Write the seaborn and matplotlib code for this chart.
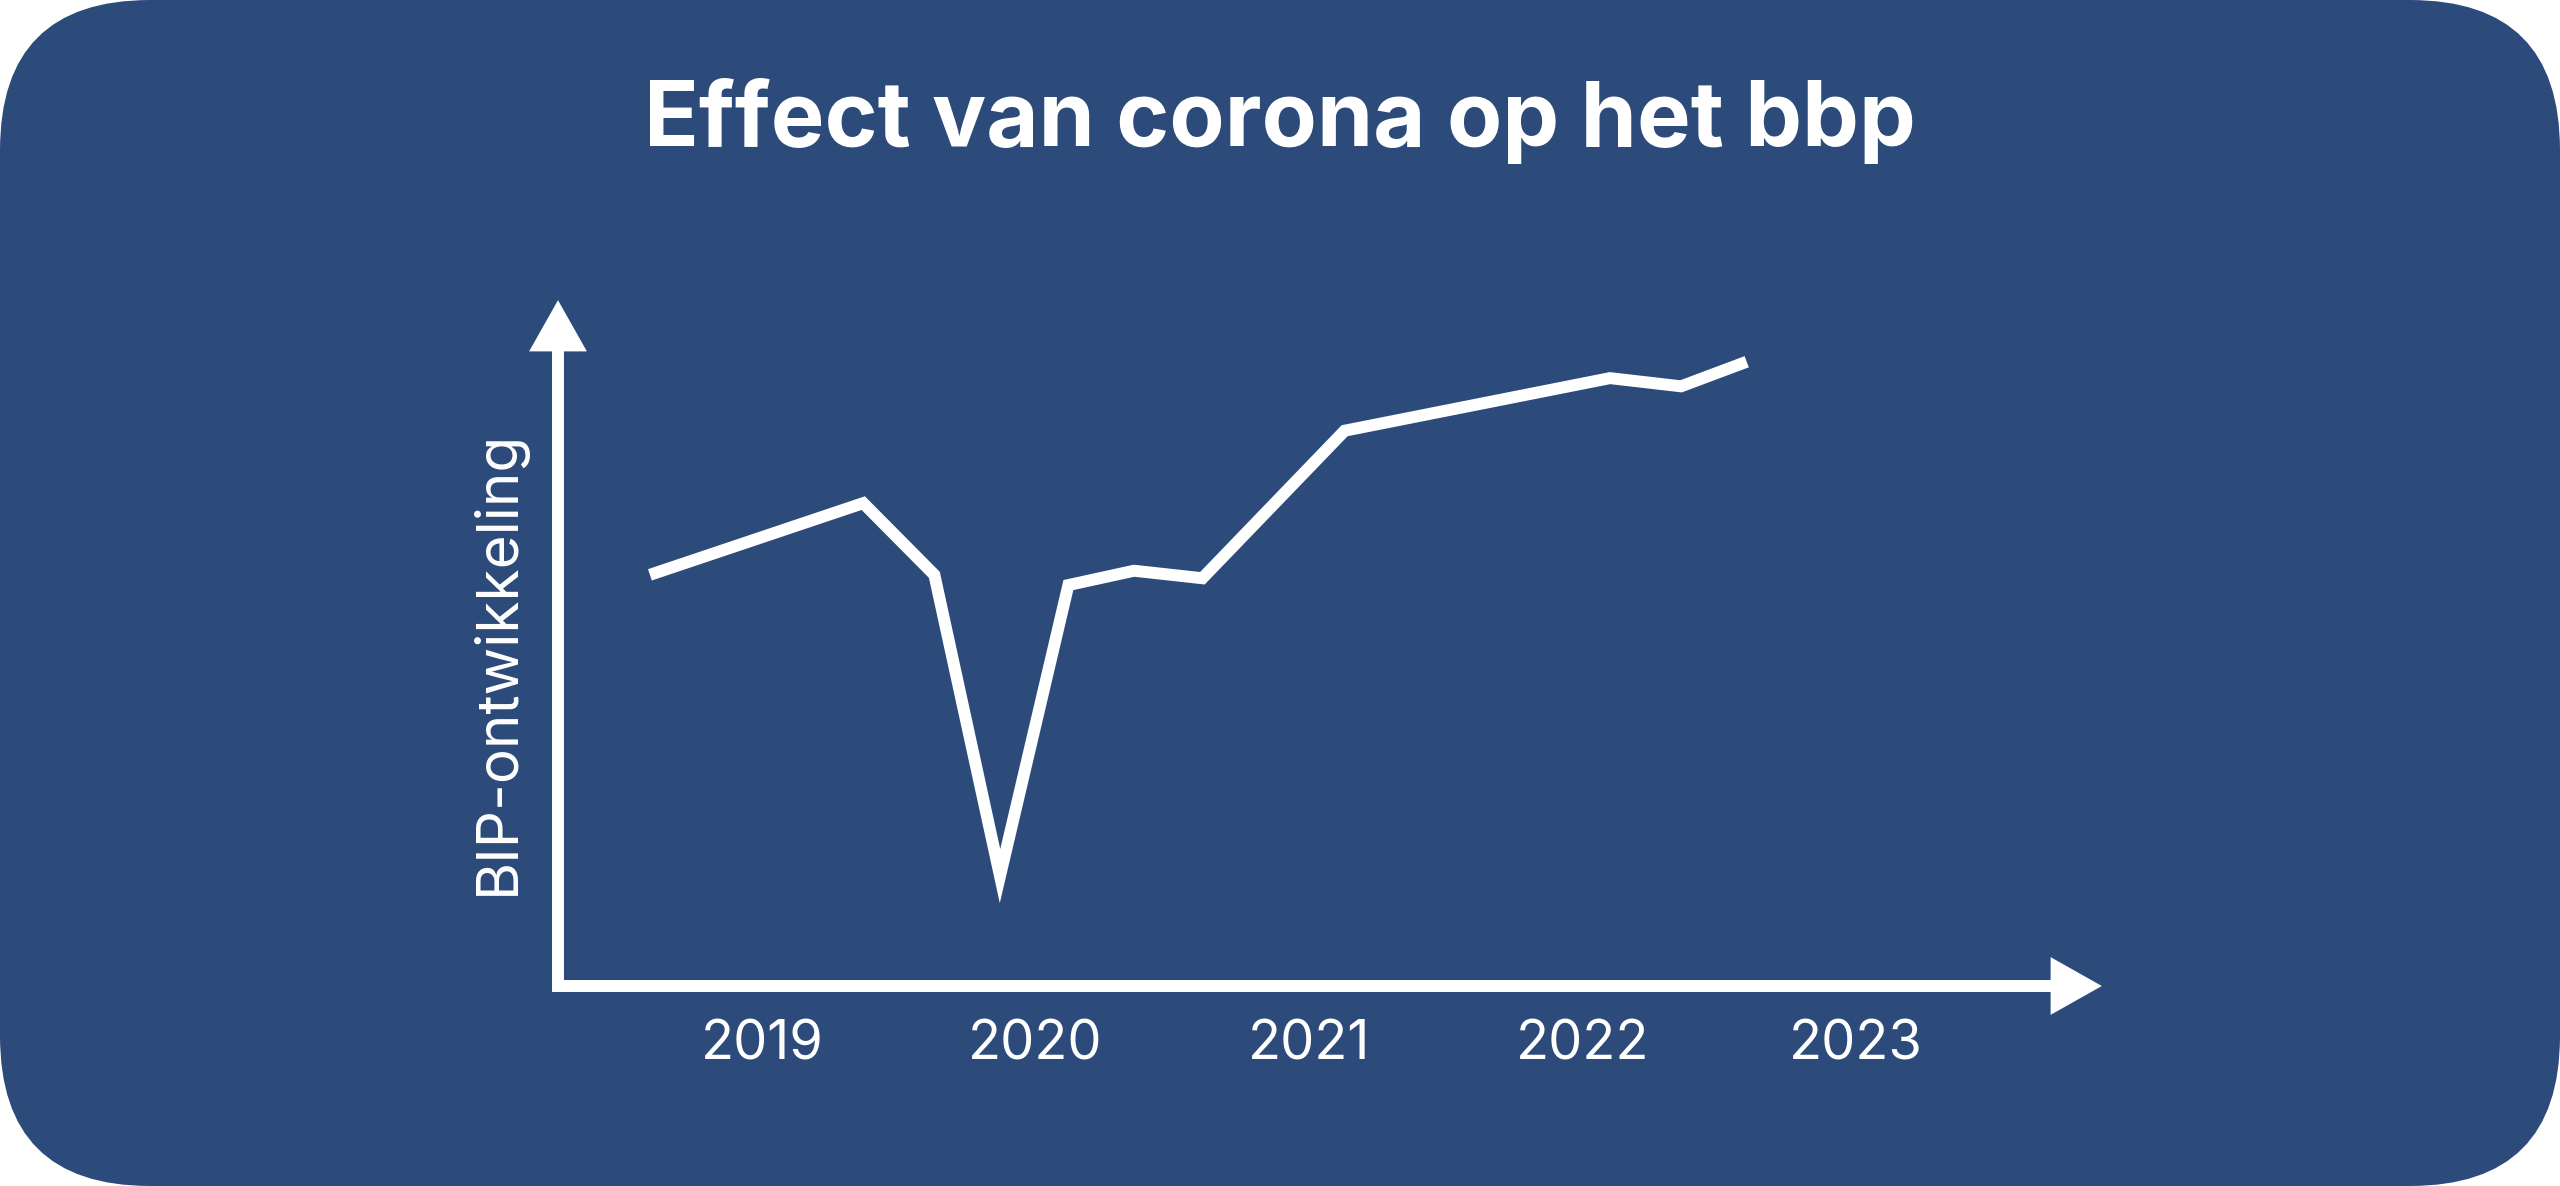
import matplotlib
matplotlib.use("Agg")
import matplotlib.pyplot as plt
import matplotlib.transforms as mtransforms
from matplotlib.patches import FancyBboxPatch, Polygon
import pandas as pd
import seaborn as sns

# data (index, 0 = x-axis, 100 = top of the y-arrow)
quarters = [2018.59, 2019.37, 2019.63, 2019.87, 2020.12, 2020.36,
            2020.61, 2021.13, 2022.10, 2022.36, 2022.60]
bbp_index = [60.2, 70.7, 60.2, 16.1, 58.7, 60.8, 59.7, 81.3, 89.0, 87.8, 91.4]
years = [2019, 2020, 2021, 2022, 2023]
year_labels = ["2019", "2020", "2021", "2022", "2023"]

title = "Effect van corona op het bbp"
ylabel = "BIP-ontwikkeling"

bg = "#2c4b7a"
fg = "white"

sns.set_style("white")
plt.rcParams["font.family"] = ["Inter", "DejaVu Sans"]

df = pd.DataFrame({"kwartaal": quarters, "bbp": bbp_index})

W, H, DPI = 12.8, 5.93, 200
fig = plt.figure(figsize=(W, H), dpi=DPI, facecolor="white")

# rounded dark-blue card
card = FancyBboxPatch((0, 0), W, H, boxstyle="round,pad=0,rounding_size=0.75",
                      transform=fig.dpi_scale_trans, facecolor=bg, edgecolor="none",
                      zorder=-10)
fig.patches.append(card)

ax = fig.add_axes([558 / 2560, 200 / 1186, 1541 / 2560, 683 / 1186])
ax.set_facecolor("none")
for s in ax.spines.values():
    s.set_visible(False)

sns.lineplot(data=df, x="kwartaal", y="bbp", ax=ax, color=fg, linewidth=4.3,
             sort=False, solid_joinstyle="miter", solid_capstyle="butt")

ax.set_xlim(2018.254, 2023.888)
ax.set_ylim(0, 100)

# axes drawn as arrows
lw_axis = 4.3
ax.plot([0.970, 0, 0], [0, 0, 0.931], transform=ax.transAxes, color=fg,
        lw=lw_axis, solid_joinstyle="miter", solid_capstyle="butt", clip_on=False)
hw, hl = 0.265, 0.235
head_y = Polygon([(0, 0), (-hw / 2, -hl), (hw / 2, -hl)], closed=True, color=fg,
                 transform=fig.dpi_scale_trans + mtransforms.ScaledTranslation(0, 1, ax.transAxes),
                 clip_on=False)
head_x = Polygon([(0, 0), (-hl, hw / 2), (-hl, -hw / 2)], closed=True, color=fg,
                 transform=fig.dpi_scale_trans + mtransforms.ScaledTranslation(1, 0, ax.transAxes),
                 clip_on=False)
ax.add_patch(head_y)
ax.add_patch(head_x)

ax.set_xticks(years)
ax.set_xticklabels(year_labels)
ax.set_yticks([])
ax.tick_params(axis="x", length=0, pad=12, labelsize=19.5, labelcolor=fg)

ax.set_xlabel("")
ax.set_ylabel(ylabel, color=fg, fontsize=21)
ax.yaxis.set_label_coords(-0.021, 0.474)

fig.text(0.5, (1186 - 146) / 1186, title, ha="center", va="baseline",
         color=fg, fontsize=32.5, fontweight="bold")

fig.savefig("out.png", dpi=DPI, facecolor="white")
